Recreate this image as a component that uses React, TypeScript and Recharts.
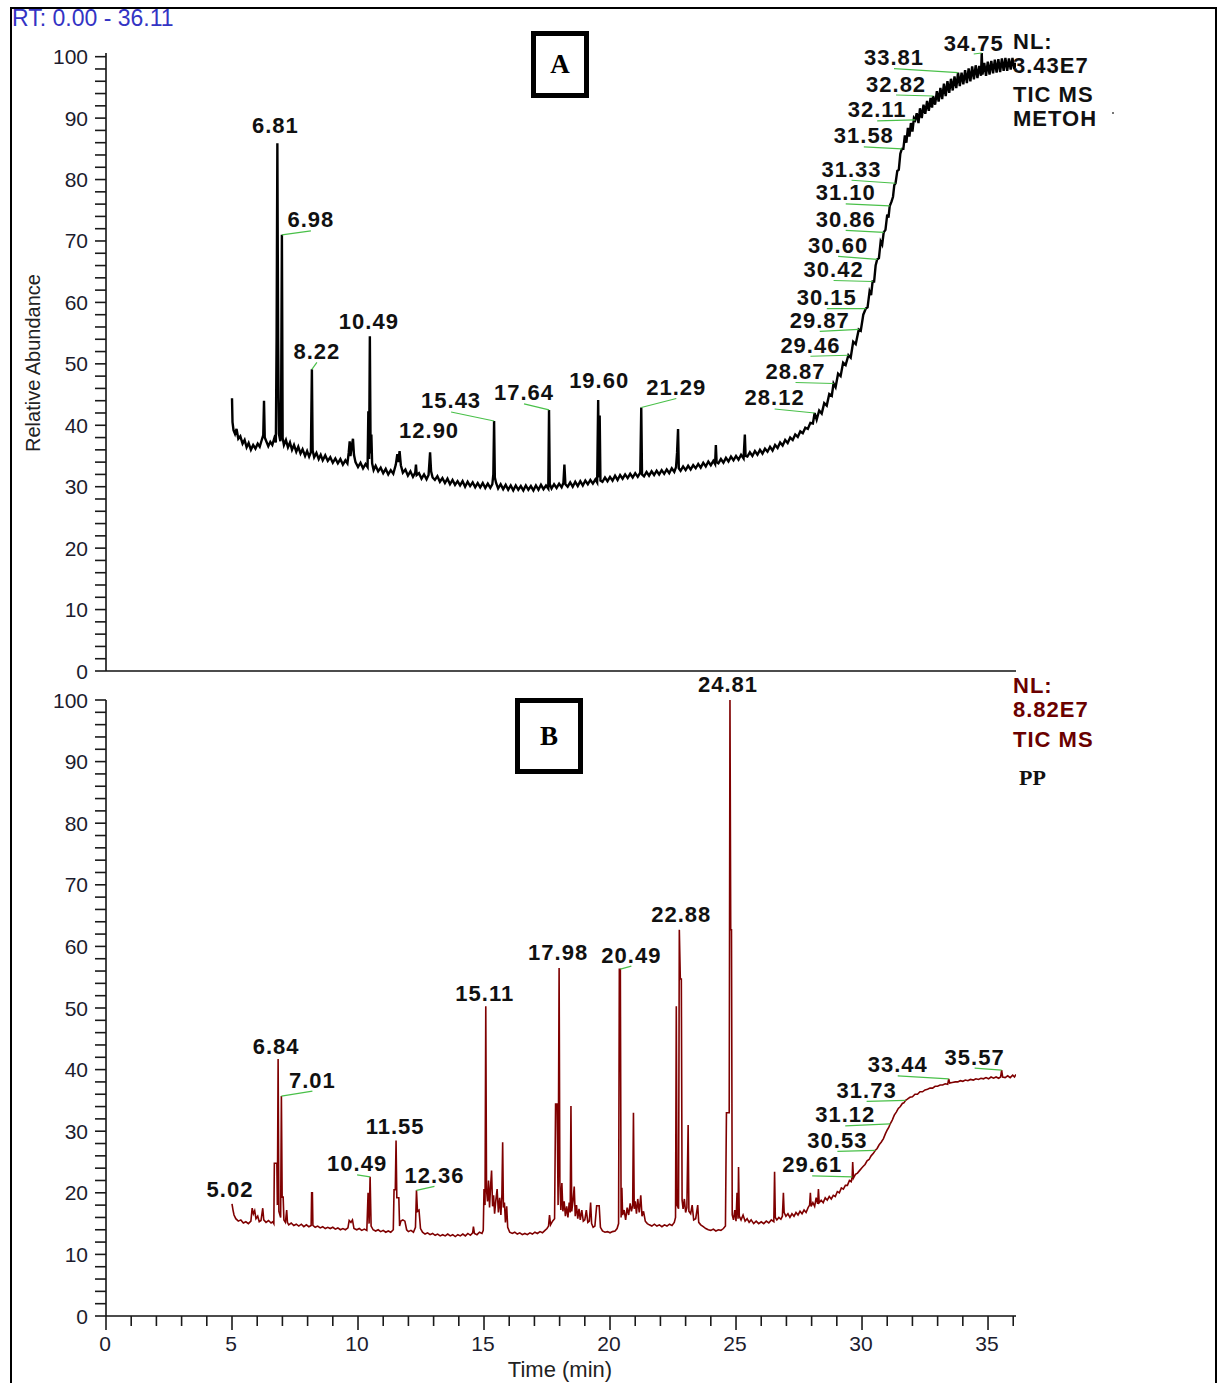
import React from "react";
import { LineChart, Line, XAxis, YAxis } from "recharts";

// chromatogram A (METOH), [time min, relative abundance]
const traceA: [number, number][] = [
  [5.0, 44.4], [5.02, 40.5], [5.06, 39.2], [5.12, 38.6], [5.18, 39.4], [5.25, 37.8], [5.33, 38.2], [5.42, 37.0],
  [5.5, 37.6], [5.58, 36.4], [5.66, 37.1], [5.75, 36.0], [5.84, 36.8], [5.93, 36.2], [6.02, 37.0], [6.1, 36.5],
  [6.18, 37.6], [6.24, 38.4], [6.27, 44.0], [6.3, 38.0], [6.36, 37.4], [6.44, 36.6], [6.52, 37.3], [6.6, 36.8],
  [6.68, 37.9], [6.74, 37.2], [6.77, 54.6], [6.8, 85.9], [6.83, 54.0], [6.86, 38.6], [6.92, 37.4], [6.95, 44.5],
  [6.98, 71.0], [7.01, 37.9], [7.06, 36.8], [7.14, 37.6], [7.22, 36.4], [7.3, 37.2], [7.38, 36.0], [7.46, 36.8],
  [7.55, 35.7], [7.63, 36.5], [7.72, 35.4], [7.8, 36.1], [7.9, 35.0], [7.98, 35.8], [8.06, 34.9], [8.13, 35.6],
  [8.17, 49.1], [8.2, 35.9], [8.26, 34.8], [8.35, 35.5], [8.44, 34.5], [8.52, 35.2], [8.6, 34.3], [8.7, 35.1],
  [8.8, 34.2], [8.9, 34.8], [9.0, 33.9], [9.1, 34.6], [9.2, 33.8], [9.3, 34.5], [9.4, 33.6], [9.5, 34.3],
  [9.58, 33.8], [9.63, 35.5], [9.67, 37.4], [9.7, 35.0], [9.76, 36.8], [9.8, 37.8], [9.84, 35.2], [9.9, 34.0],
  [10.0, 33.2], [10.1, 33.9], [10.2, 33.0], [10.3, 33.7], [10.38, 33.2], [10.41, 42.3], [10.44, 34.5], [10.47, 54.5],
  [10.5, 35.4], [10.53, 38.5], [10.56, 33.8], [10.62, 32.7], [10.7, 33.4], [10.8, 32.5], [10.9, 33.1], [11.0, 32.2],
  [11.1, 32.9], [11.2, 32.0], [11.3, 32.7], [11.4, 32.1], [11.5, 33.6], [11.56, 35.3], [11.6, 34.0], [11.65, 35.8],
  [11.7, 33.5], [11.78, 32.3], [11.88, 32.8], [11.98, 31.8], [12.08, 32.5], [12.18, 31.6], [12.27, 32.3], [12.3, 33.6],
  [12.33, 31.9], [12.42, 32.2], [12.52, 31.3], [12.62, 32.0], [12.72, 31.2], [12.8, 31.9], [12.86, 35.6], [12.9, 32.5],
  [12.96, 31.5], [13.05, 31.1], [13.15, 31.7], [13.25, 30.8], [13.35, 31.4], [13.45, 30.6], [13.55, 31.3], [13.65, 30.4],
  [13.75, 31.1], [13.85, 30.3], [13.95, 30.9], [14.05, 30.2], [14.15, 30.9], [14.25, 30.0], [14.35, 30.8], [14.45, 30.1],
  [14.55, 30.7], [14.65, 29.9], [14.75, 30.6], [14.85, 29.9], [14.95, 30.6], [15.05, 29.8], [15.15, 30.5], [15.25, 29.8],
  [15.33, 30.4], [15.37, 32.0], [15.4, 40.7], [15.43, 31.5], [15.48, 30.6], [15.56, 29.7], [15.66, 30.4], [15.76, 29.6],
  [15.86, 30.3], [15.96, 29.5], [16.06, 30.2], [16.16, 29.4], [16.26, 30.2], [16.36, 29.5], [16.46, 30.1], [16.56, 29.4],
  [16.66, 30.2], [16.76, 29.5], [16.86, 30.1], [16.96, 29.4], [17.06, 30.2], [17.16, 29.5], [17.26, 30.3], [17.36, 29.6],
  [17.46, 30.2], [17.55, 29.7], [17.58, 42.5], [17.61, 30.4], [17.68, 29.7], [17.78, 30.4], [17.88, 29.8], [17.98, 30.5],
  [18.08, 29.9], [18.15, 30.6], [18.19, 33.6], [18.23, 30.4], [18.32, 30.0], [18.42, 30.7], [18.52, 30.0], [18.62, 30.8],
  [18.72, 30.1], [18.82, 30.9], [18.92, 30.2], [19.02, 31.0], [19.12, 30.4], [19.22, 31.1], [19.32, 30.5], [19.42, 31.2],
  [19.49, 30.7], [19.53, 44.1], [19.56, 31.5], [19.59, 41.6], [19.62, 31.0], [19.7, 30.8], [19.8, 31.5], [19.9, 30.9],
  [20.0, 31.6], [20.1, 31.0], [20.2, 31.8], [20.3, 31.1], [20.4, 31.9], [20.5, 31.3], [20.6, 32.0], [20.7, 31.4],
  [20.8, 32.1], [20.9, 31.5], [21.0, 32.2], [21.1, 31.6], [21.2, 32.3], [21.24, 42.9], [21.27, 32.0], [21.35, 31.7],
  [21.45, 32.4], [21.55, 31.8], [21.65, 32.5], [21.75, 31.9], [21.85, 32.6], [21.95, 32.0], [22.05, 32.7], [22.15, 32.1],
  [22.25, 32.8], [22.35, 32.2], [22.45, 33.0], [22.55, 32.4], [22.62, 33.2], [22.66, 35.5], [22.7, 39.4], [22.73, 33.0],
  [22.8, 32.6], [22.9, 33.3], [23.0, 32.7], [23.1, 33.4], [23.2, 32.8], [23.3, 33.5], [23.4, 33.0], [23.5, 33.7],
  [23.6, 33.1], [23.7, 33.9], [23.8, 33.3], [23.9, 34.1], [24.0, 33.5], [24.1, 34.2], [24.17, 33.7], [24.2, 36.8],
  [24.23, 34.0], [24.3, 33.8], [24.4, 34.5], [24.5, 33.9], [24.6, 34.7], [24.7, 34.1], [24.8, 34.9], [24.9, 34.3],
  [25.0, 35.0], [25.1, 34.4], [25.2, 35.2], [25.3, 34.6], [25.35, 38.5], [25.38, 35.0], [25.45, 34.9], [25.55, 35.6],
  [25.65, 35.0], [25.75, 35.8], [25.85, 35.2], [25.95, 36.0], [26.05, 35.4], [26.15, 36.2], [26.25, 35.7], [26.35, 36.5],
  [26.45, 35.9], [26.55, 36.8], [26.65, 36.3], [26.75, 37.2], [26.85, 36.7], [26.95, 37.6], [27.05, 37.1], [27.15, 38.0],
  [27.25, 37.6], [27.35, 38.5], [27.45, 38.1], [27.55, 39.0], [27.65, 38.7], [27.75, 39.6], [27.85, 39.4], [27.95, 40.4],
  [28.05, 40.3], [28.12, 42.0], [28.2, 40.9], [28.3, 42.4], [28.4, 41.9], [28.5, 43.6], [28.6, 43.2], [28.7, 45.1],
  [28.8, 44.8], [28.87, 46.8], [28.95, 46.2], [29.05, 48.4], [29.15, 48.0], [29.25, 50.2], [29.35, 49.8], [29.46, 51.4],
  [29.55, 51.0], [29.65, 53.6], [29.75, 53.2], [29.87, 55.6], [29.95, 55.4], [30.05, 58.0], [30.15, 59.0], [30.22, 59.2],
  [30.3, 61.8], [30.36, 61.2], [30.42, 63.4], [30.48, 63.4], [30.54, 66.0], [30.6, 67.0], [30.67, 67.2], [30.74, 69.9],
  [30.8, 69.4], [30.86, 71.4], [30.93, 71.8], [31.0, 74.3], [31.05, 73.8], [31.1, 75.7], [31.17, 76.4], [31.23, 77.2],
  [31.28, 79.1], [31.33, 79.4], [31.4, 81.4], [31.46, 81.6], [31.52, 84.2], [31.58, 85.0], [31.64, 85.0], [31.7, 87.2],
  [31.76, 86.0], [31.82, 88.4], [31.88, 87.0], [31.94, 89.2], [32.0, 87.8], [32.06, 90.0], [32.11, 89.7], [32.17, 90.8],
  [32.24, 89.2], [32.3, 91.6], [32.37, 90.0], [32.44, 92.2], [32.51, 90.7], [32.58, 92.8], [32.65, 91.2], [32.72, 93.3],
  [32.78, 91.7], [32.82, 93.6], [32.9, 92.2], [32.97, 94.4], [33.04, 92.7], [33.11, 94.9], [33.18, 93.1], [33.25, 95.6],
  [33.32, 93.6], [33.39, 96.0], [33.46, 94.1], [33.53, 96.4], [33.6, 94.5], [33.67, 96.8], [33.74, 94.9], [33.81, 97.4],
  [33.88, 95.2], [33.95, 97.4], [34.02, 95.5], [34.09, 97.8], [34.16, 95.7], [34.23, 98.1], [34.3, 96.0], [34.37, 98.4],
  [34.44, 96.3], [34.51, 98.6], [34.58, 96.5], [34.65, 98.5], [34.72, 96.9], [34.75, 100.6], [34.78, 97.1], [34.85, 99.0],
  [34.92, 96.9], [34.99, 99.2], [35.06, 97.1], [35.13, 99.3], [35.2, 97.3], [35.27, 99.5], [35.34, 97.4], [35.41, 99.6],
  [35.48, 97.5], [35.55, 99.7], [35.62, 97.7], [35.69, 99.8], [35.76, 97.7], [35.83, 99.7], [35.9, 97.9], [35.97, 99.8],
  [36.04, 98.0], [36.11, 99.0],
];

// chromatogram B (PP)
const traceB: [number, number][] = [
  [5.0, 18.2], [5.04, 17.2], [5.08, 16.4], [5.15, 15.8], [5.25, 15.4], [5.35, 15.6], [5.45, 15.1], [5.55, 15.3],
  [5.65, 15.0], [5.75, 15.4], [5.8, 17.5], [5.85, 16.6], [5.9, 17.1], [5.95, 15.8], [6.02, 16.2], [6.08, 15.3],
  [6.15, 15.5], [6.22, 17.5], [6.26, 15.6], [6.35, 15.2], [6.45, 15.5], [6.55, 15.1], [6.62, 15.3], [6.66, 15.0],
  [6.68, 24.8], [6.78, 24.8], [6.8, 18.0], [6.83, 41.7], [6.86, 17.0], [6.93, 16.0], [6.96, 35.7], [6.99, 19.3],
  [7.03, 19.3], [7.06, 15.6], [7.12, 15.2], [7.17, 17.2], [7.2, 15.2], [7.25, 14.8], [7.35, 15.1], [7.45, 14.7],
  [7.55, 14.9], [7.65, 14.6], [7.75, 14.9], [7.85, 14.5], [7.95, 14.8], [8.05, 14.5], [8.14, 14.7], [8.16, 20.0],
  [8.19, 20.0], [8.21, 14.7], [8.3, 14.4], [8.4, 14.6], [8.5, 14.3], [8.6, 14.5], [8.7, 14.2], [8.8, 14.4],
  [8.9, 14.2], [9.0, 14.4], [9.1, 14.1], [9.2, 14.3], [9.3, 14.0], [9.4, 14.2], [9.5, 14.0], [9.6, 14.3],
  [9.65, 15.5], [9.72, 15.2], [9.78, 15.6], [9.84, 14.2], [9.95, 14.0], [10.05, 14.2], [10.15, 13.9], [10.25, 14.1],
  [10.35, 13.9], [10.4, 20.0], [10.44, 15.0], [10.48, 22.6], [10.52, 14.6], [10.6, 14.0], [10.7, 13.8], [10.8, 14.0],
  [10.9, 13.7], [11.0, 13.9], [11.1, 13.6], [11.2, 13.8], [11.3, 13.6], [11.4, 14.0], [11.43, 20.5], [11.48, 20.5],
  [11.51, 28.5], [11.54, 19.2], [11.62, 19.2], [11.65, 14.6], [11.7, 15.4], [11.78, 15.6], [11.86, 15.4], [11.93, 14.0],
  [12.0, 13.7], [12.1, 13.9], [12.2, 13.6], [12.28, 14.4], [12.32, 20.4], [12.36, 17.0], [12.42, 17.2], [12.48, 14.2],
  [12.56, 13.6], [12.66, 13.3], [12.76, 13.5], [12.86, 13.2], [12.96, 13.4], [13.06, 13.1], [13.16, 13.3], [13.26, 13.0],
  [13.36, 13.2], [13.46, 13.0], [13.56, 13.3], [13.66, 13.0], [13.76, 13.2], [13.86, 12.9], [13.96, 13.2], [14.06, 13.0],
  [14.16, 13.3], [14.26, 13.0], [14.36, 13.4], [14.46, 13.1], [14.55, 13.5], [14.58, 14.5], [14.62, 13.4], [14.72, 13.2],
  [14.82, 13.6], [14.92, 13.4], [14.97, 13.9], [15.0, 20.6], [15.04, 18.0], [15.07, 50.3], [15.1, 20.4], [15.14, 18.6],
  [15.18, 22.0], [15.22, 17.6], [15.26, 21.0], [15.3, 23.6], [15.34, 17.8], [15.38, 19.6], [15.42, 16.6], [15.47, 18.8],
  [15.52, 20.6], [15.57, 16.8], [15.62, 19.2], [15.67, 16.4], [15.71, 19.8], [15.74, 28.2], [15.77, 17.6], [15.81, 18.4],
  [15.85, 15.2], [15.9, 17.8], [15.94, 14.4], [16.02, 13.6], [16.12, 13.4], [16.22, 13.6], [16.32, 13.3], [16.42, 13.5],
  [16.52, 13.2], [16.62, 13.4], [16.72, 13.2], [16.82, 13.5], [16.92, 13.3], [17.02, 13.6], [17.12, 13.4], [17.22, 13.7],
  [17.32, 13.5], [17.42, 13.9], [17.5, 14.2], [17.56, 14.6], [17.6, 16.4], [17.64, 14.8], [17.72, 15.4], [17.8, 15.8],
  [17.84, 34.4], [17.9, 34.4], [17.94, 18.0], [17.98, 56.5], [18.01, 21.8], [18.05, 17.2], [18.09, 21.6], [18.13, 17.0],
  [18.18, 18.6], [18.23, 16.2], [18.28, 17.8], [18.33, 16.0], [18.38, 18.4], [18.42, 16.8], [18.45, 34.1], [18.48, 17.0],
  [18.53, 18.6], [18.58, 21.0], [18.62, 16.2], [18.67, 18.0], [18.72, 15.8], [18.77, 17.4], [18.82, 15.6], [18.88, 17.2],
  [18.94, 15.4], [19.0, 15.6], [19.06, 17.2], [19.12, 15.2], [19.18, 15.4], [19.23, 18.4], [19.27, 15.0], [19.33, 14.4],
  [19.4, 14.6], [19.47, 17.9], [19.57, 17.9], [19.62, 14.4], [19.7, 13.8], [19.8, 13.6], [19.9, 13.7], [20.0, 13.5],
  [20.1, 13.7], [20.2, 13.8], [20.28, 14.2], [20.34, 15.0], [20.37, 56.3], [20.41, 56.3], [20.44, 16.0], [20.47, 20.8],
  [20.5, 16.4], [20.56, 17.2], [20.62, 15.6], [20.68, 17.6], [20.74, 16.4], [20.8, 18.3], [20.85, 17.0], [20.9, 18.0],
  [20.93, 33.0], [20.96, 17.4], [21.0, 18.6], [21.05, 16.6], [21.1, 19.0], [21.16, 16.8], [21.22, 19.6], [21.27, 16.2],
  [21.33, 17.0], [21.4, 15.4], [21.48, 15.0], [21.56, 14.8], [21.66, 14.6], [21.76, 14.9], [21.86, 14.6], [21.96, 14.8],
  [22.06, 14.5], [22.16, 14.8], [22.26, 14.6], [22.36, 14.9], [22.46, 14.7], [22.55, 15.2], [22.6, 16.0], [22.63, 50.3],
  [22.66, 18.0], [22.72, 17.4], [22.75, 62.7], [22.79, 54.7], [22.83, 54.7], [22.86, 18.8], [22.9, 17.4], [22.95, 19.0],
  [23.0, 16.8], [23.05, 17.6], [23.1, 31.0], [23.13, 17.0], [23.2, 16.6], [23.26, 18.0], [23.32, 15.6], [23.4, 15.8],
  [23.48, 18.0], [23.52, 15.2], [23.6, 14.8], [23.7, 14.5], [23.8, 14.2], [23.9, 14.0], [24.0, 13.9], [24.1, 14.1],
  [24.2, 13.8], [24.3, 14.0], [24.4, 13.9], [24.5, 14.2], [24.58, 14.6], [24.62, 33.0], [24.73, 33.0], [24.76, 100.0],
  [24.79, 62.7], [24.82, 62.7], [24.85, 16.4], [24.9, 15.6], [24.95, 17.2], [25.0, 15.4], [25.04, 20.0], [25.08, 15.8],
  [25.1, 24.2], [25.13, 16.2], [25.2, 15.6], [25.28, 16.4], [25.36, 15.4], [25.44, 15.8], [25.52, 15.2], [25.6, 15.6],
  [25.7, 15.0], [25.8, 15.4], [25.9, 15.0], [26.0, 15.3], [26.1, 15.0], [26.2, 15.4], [26.3, 15.1], [26.4, 15.6],
  [26.5, 15.3], [26.53, 23.4], [26.56, 16.0], [26.62, 15.6], [26.7, 16.0], [26.78, 15.7], [26.84, 16.2], [26.88, 20.0],
  [26.91, 16.8], [26.98, 16.2], [27.06, 16.6], [27.14, 16.0], [27.22, 16.6], [27.3, 16.2], [27.38, 16.8], [27.46, 16.4],
  [27.54, 17.0], [27.62, 16.6], [27.7, 17.2], [27.78, 16.8], [27.86, 17.6], [27.92, 18.0], [27.95, 20.0], [27.98, 17.8],
  [28.05, 18.4], [28.12, 17.8], [28.18, 19.2], [28.24, 18.2], [28.27, 20.6], [28.3, 18.4], [28.38, 18.8], [28.46, 18.4],
  [28.54, 19.2], [28.62, 18.8], [28.7, 19.4], [28.78, 19.0], [28.86, 19.6], [28.94, 19.4], [29.02, 20.2], [29.1, 20.0],
  [29.18, 20.8], [29.26, 20.6], [29.34, 21.2], [29.42, 21.2], [29.5, 22.0], [29.57, 21.8], [29.61, 22.6], [29.63, 25.0],
  [29.66, 22.4], [29.74, 23.0], [29.82, 23.2], [29.9, 23.6], [29.98, 24.0], [30.05, 24.3], [30.12, 24.6], [30.2, 25.2],
  [30.28, 25.4], [30.36, 26.0], [30.45, 26.4], [30.53, 26.9], [30.6, 27.2], [30.68, 27.8], [30.76, 28.2], [30.85, 28.8],
  [30.93, 29.6], [31.0, 30.2], [31.06, 30.6], [31.12, 31.2], [31.2, 31.8], [31.28, 32.6], [31.36, 33.1], [31.44, 33.7],
  [31.52, 34.0], [31.6, 34.5], [31.66, 34.6], [31.73, 35.0], [31.8, 35.2], [31.9, 35.5], [32.0, 35.6], [32.1, 36.0],
  [32.2, 36.0], [32.3, 36.4], [32.4, 36.4], [32.5, 36.7], [32.6, 36.8], [32.7, 37.0], [32.8, 37.0], [32.9, 37.3],
  [33.0, 37.3], [33.1, 37.5], [33.2, 37.5], [33.3, 37.7], [33.4, 37.6], [33.44, 38.5], [33.48, 37.8], [33.58, 37.9],
  [33.7, 38.0], [33.8, 38.0], [33.9, 38.2], [34.0, 38.1], [34.1, 38.3], [34.2, 38.2], [34.3, 38.4], [34.42, 38.3],
  [34.52, 38.5], [34.62, 38.4], [34.72, 38.6], [34.82, 38.5], [34.92, 38.7], [35.02, 38.5], [35.12, 38.8], [35.22, 38.6],
  [35.32, 38.8], [35.42, 38.6], [35.5, 38.8], [35.54, 39.9], [35.58, 38.8], [35.68, 38.7], [35.78, 39.0], [35.88, 38.7],
  [35.98, 39.1], [36.05, 38.8], [36.11, 39.2],
];

// labelled peaks: [retention time text, time, abundance]
const peaksA: [string, number, number][] = [
  ["6.81", 6.8, 85.9], ["6.98", 6.98, 71.0], ["8.22", 8.17, 49.1], ["10.49", 10.47, 54.5],
  ["12.90", 12.86, 35.6], ["15.43", 15.4, 40.7], ["17.64", 17.58, 42.5], ["19.60", 19.53, 44.1],
  ["21.29", 21.24, 42.9], ["28.12", 28.12, 42.0], ["28.87", 28.87, 46.8], ["29.46", 29.46, 51.4],
  ["29.87", 29.87, 55.6], ["30.15", 30.15, 59.0], ["30.42", 30.42, 63.4], ["30.60", 30.6, 67.0],
  ["30.86", 30.86, 71.4], ["31.10", 31.1, 75.7], ["31.33", 31.33, 79.4], ["31.58", 31.58, 85.0],
  ["32.11", 32.11, 89.7], ["32.82", 32.82, 93.6], ["33.81", 33.81, 97.4], ["34.75", 34.75, 100.6],
];

const peaksB: [string, number, number][] = [
  ["5.02", 5.0, 18.2], ["6.84", 6.83, 41.7], ["7.01", 6.96, 35.7], ["10.49", 10.48, 22.6],
  ["11.55", 11.51, 28.5], ["12.36", 12.32, 20.4], ["15.11", 15.07, 50.3], ["17.98", 17.98, 56.5],
  ["20.49", 20.41, 56.3], ["22.88", 22.75, 62.7], ["24.81", 24.76, 100.0], ["29.61", 29.61, 22.6],
  ["30.53", 30.53, 26.9], ["31.12", 31.12, 31.2], ["31.73", 31.73, 35.0], ["33.44", 33.44, 38.5],
  ["35.57", 35.54, 39.9],
];

const abundanceTicks = [
  0, 2, 4, 6, 8, 10, 12, 14, 16, 18, 20, 22, 24, 26, 28, 30, 32, 34, 36, 38, 40, 42, 44, 46, 48, 50,
  52, 54, 56, 58, 60, 62, 64, 66, 68, 70, 72, 74, 76, 78, 80, 82, 84, 86, 88, 90, 92, 94, 96, 98, 100,
];
const timeTicks = [
  0, 1, 2, 3, 4, 5, 6, 7, 8, 9, 10, 11, 12, 13, 14, 15, 16, 17, 18, 19, 20, 21, 22, 23, 24, 25, 26,
  27, 28, 29, 30, 31, 32, 33, 34, 35, 36,
];

// label placement (px offset of label centre from the peak apex)
const labelOffsetA: Record<string, [number, number]> = {
  "6.81": [-2, -18], "6.98": [29, -15], "8.22": [5, -18], "10.49": [-1, -15], "12.90": [-1, -22],
  "15.43": [-43, -20], "17.64": [-25, -17], "19.60": [1, -20], "21.29": [35, -20], "28.12": [-40, -15],
  "28.87": [-38, -12], "29.46": [-38, -10], "29.87": [-39, -9], "30.15": [-39, -11], "30.42": [-39, -12],
  "30.60": [-39, -14], "30.86": [-38, -13], "31.10": [-44, -13], "31.33": [-44, -14], "31.58": [-38, -13],
  "32.11": [-38, -10], "32.82": [-37, -12], "33.81": [-64, -15], "34.75": [-8, -10],
};
const labelOffsetB: Record<string, [number, number]> = {
  "5.02": [-2, -14], "6.84": [-2, -13], "7.01": [31, -16], "10.49": [-13, -13], "11.55": [-1, -14],
  "12.36": [18, -15], "15.11": [-1, -13], "17.98": [-1, -15], "20.49": [11, -14], "22.88": [2, -15],
  "24.81": [-2, -16], "29.61": [-40, -12], "30.53": [-38, -10], "31.12": [-45, -9], "31.73": [-39, -10],
  "33.44": [-51, -14], "35.57": [-27, -13],
};

const SANS = "'Liberation Sans', Arial, Helvetica, sans-serif";
const SERIF = "'Liberation Serif', 'Times New Roman', serif";
const LEADER = "#49c049";

const toPoints = (rows: [number, number][]) => rows.map(([t, v]) => ({ t, v }));
const toPeaks = (rows: [string, number, number][]) => rows.map(([rt, t, v]) => ({ rt, t, v }));

const YTick = (props: any) => {
  const { x, y, payload } = props;
  const v = payload.value;
  return (
    <g>
      <line x1={x - 11} x2={x} y1={y} y2={y} stroke="#1a1a1a" strokeWidth={1.6} />
      {v % 10 === 0 && (
        <text x={x - 18} y={y} textAnchor="end" dominantBaseline="central" fontSize={21} fill="#1c1c2e" fontFamily={SANS}>
          {v}
        </text>
      )}
    </g>
  );
};

const XTick = (props: any) => {
  const { x, y, payload } = props;
  const v = payload.value;
  const major = v % 5 === 0;
  return (
    <g>
      <line x1={x} x2={x} y1={y} y2={y + (major ? 14 : 10)} stroke="#1a1a1a" strokeWidth={1.6} />
      {major && (
        <text x={x - 1} y={y + 27} textAnchor="middle" dominantBaseline="central" fontSize={21} fill="#1c1c2e" fontFamily={SANS}>
          {v}
        </text>
      )}
    </g>
  );
};

const peakLabel = (offsets: Record<string, [number, number]>) => (props: any) => {
  const { cx, cy, payload, index } = props;
  if (cx == null || cy == null) return <g key={`pk-${index}`} />;
  const [dx, dy] = offsets[payload.rt] || [0, -15];
  const lx = cx + dx;
  const ly = cy + dy;
  return (
    <g key={`pk-${index}`}>
      {Math.abs(dx) > 4 && <line x1={lx} y1={ly + 11} x2={cx} y2={cy} stroke={LEADER} strokeWidth={1.2} />}
      <text
        x={lx}
        y={ly}
        textAnchor="middle"
        dominantBaseline="central"
        fontSize={22}
        fontWeight="bold"
        fill="#111"
        fontFamily={SANS}
        style={{ letterSpacing: "1px" }}
      >
        {payload.rt}
      </text>
    </g>
  );
};

const dataA = toPoints(traceA);
const dataB = toPoints(traceB);
const annA = toPeaks(peaksA);
const annB = toPeaks(peaksB);

const boldText: React.CSSProperties = {
  position: "absolute",
  fontFamily: SANS,
  fontWeight: "bold",
  fontSize: 22,
  lineHeight: "22px",
  letterSpacing: 1,
  whiteSpace: "nowrap",
};

export default function App() {
  return (
    <div style={{ position: "absolute", left: 0, top: 0, width: 1222, height: 1383, background: "#fff", overflow: "hidden" }}>
      <div style={{ position: "absolute", left: 10, top: 7, width: 1207, height: 1400, border: "2px solid #000", boxSizing: "border-box" }} />

      <div style={{ position: "absolute", left: 0, top: 0 }}>
        <LineChart width={1222} height={700} margin={{ top: 53, right: 206, left: 0, bottom: 28 }}>
          <XAxis
            type="number"
            dataKey="t"
            domain={[0, 36.11]}
            allowDataOverflow
            tick={false}
            tickLine={false}
            height={1}
            axisLine={{ stroke: "#111", strokeWidth: 1.6 }}
          />
          <YAxis
            type="number"
            domain={[0, 100]}
            ticks={abundanceTicks}
            interval={0}
            width={106}
            tickSize={0}
            tickMargin={0}
            tickLine={false}
            tick={YTick}
            axisLine={{ stroke: "#111", strokeWidth: 1.6 }}
          />
          <Line data={dataA} dataKey="v" type="linear" stroke="#000" strokeWidth={2.4} dot={false} activeDot={false} isAnimationActive={false} />
          <Line data={annA} dataKey="v" stroke="none" dot={peakLabel(labelOffsetA)} activeDot={false} isAnimationActive={false} />
        </LineChart>
      </div>

      <div style={{ position: "absolute", left: 0, top: 650 }}>
        <LineChart width={1222} height={733} margin={{ top: 50, right: 206, left: 0, bottom: 27 }}>
          <XAxis
            type="number"
            dataKey="t"
            domain={[0, 36.11]}
            allowDataOverflow
            ticks={timeTicks}
            interval={0}
            height={40}
            tickSize={0}
            tickMargin={0}
            tickLine={false}
            tick={XTick}
            axisLine={{ stroke: "#111", strokeWidth: 1.6 }}
          />
          <YAxis
            type="number"
            domain={[0, 100]}
            ticks={abundanceTicks}
            interval={0}
            width={106}
            tickSize={0}
            tickMargin={0}
            tickLine={false}
            tick={YTick}
            axisLine={{ stroke: "#111", strokeWidth: 1.6 }}
          />
          <Line data={dataB} dataKey="v" type="linear" stroke="#7f0000" strokeWidth={1.6} dot={false} activeDot={false} isAnimationActive={false} />
          <Line data={annB} dataKey="v" stroke="none" dot={peakLabel(labelOffsetB)} activeDot={false} isAnimationActive={false} />
        </LineChart>
      </div>

      <div style={{ position: "absolute", left: 12, top: 5, fontFamily: SANS, fontSize: 23, lineHeight: "26px", color: "#3434c4", whiteSpace: "nowrap" }}>
        RT: 0.00 - 36.11
      </div>
      <div
        style={{
          position: "absolute",
          left: 33 - 150,
          top: 363 - 12,
          width: 300,
          height: 24,
          lineHeight: "24px",
          textAlign: "center",
          transform: "rotate(-90deg)",
          fontFamily: SANS,
          fontSize: 20,
          color: "#222",
        }}
      >
        Relative Abundance
      </div>
      <div style={{ position: "absolute", left: 460, top: 1357, width: 200, textAlign: "center", fontFamily: SANS, fontSize: 22, lineHeight: "26px", color: "#222" }}>
        Time (min)
      </div>

      <div
        style={{
          position: "absolute",
          left: 531,
          top: 31,
          width: 58,
          height: 67,
          border: "5px solid #000",
          boxSizing: "border-box",
          display: "flex",
          alignItems: "center",
          justifyContent: "center",
          fontFamily: SERIF,
          fontWeight: "bold",
          fontSize: 27,
          background: "#fff",
        }}
      >
        A
      </div>
      <div
        style={{
          position: "absolute",
          left: 515,
          top: 698,
          width: 68,
          height: 76,
          border: "5px solid #000",
          boxSizing: "border-box",
          display: "flex",
          alignItems: "center",
          justifyContent: "center",
          fontFamily: SERIF,
          fontWeight: "bold",
          fontSize: 27,
          background: "#fff",
        }}
      >
        B
      </div>

      <div style={{ ...boldText, left: 1013, top: 31, color: "#111" }}>NL:</div>
      <div style={{ ...boldText, left: 1013, top: 55, color: "#111" }}>3.43E7</div>
      <div style={{ ...boldText, left: 1013, top: 84, color: "#111" }}>TIC MS</div>
      <div style={{ ...boldText, left: 1013, top: 108, color: "#111" }}>METOH</div>
      <div style={{ position: "absolute", left: 1112, top: 112, width: 2, height: 2, background: "#777" }} />

      <div style={{ ...boldText, left: 1013, top: 675, color: "#6a0000" }}>NL:</div>
      <div style={{ ...boldText, left: 1013, top: 699, color: "#6a0000" }}>8.82E7</div>
      <div style={{ ...boldText, left: 1013, top: 729, color: "#6a0000" }}>TIC MS</div>
      <div style={{ position: "absolute", left: 1019, top: 766, fontFamily: SERIF, fontWeight: "bold", fontSize: 22, lineHeight: "24px", color: "#111" }}>
        PP
      </div>
    </div>
  );
}
